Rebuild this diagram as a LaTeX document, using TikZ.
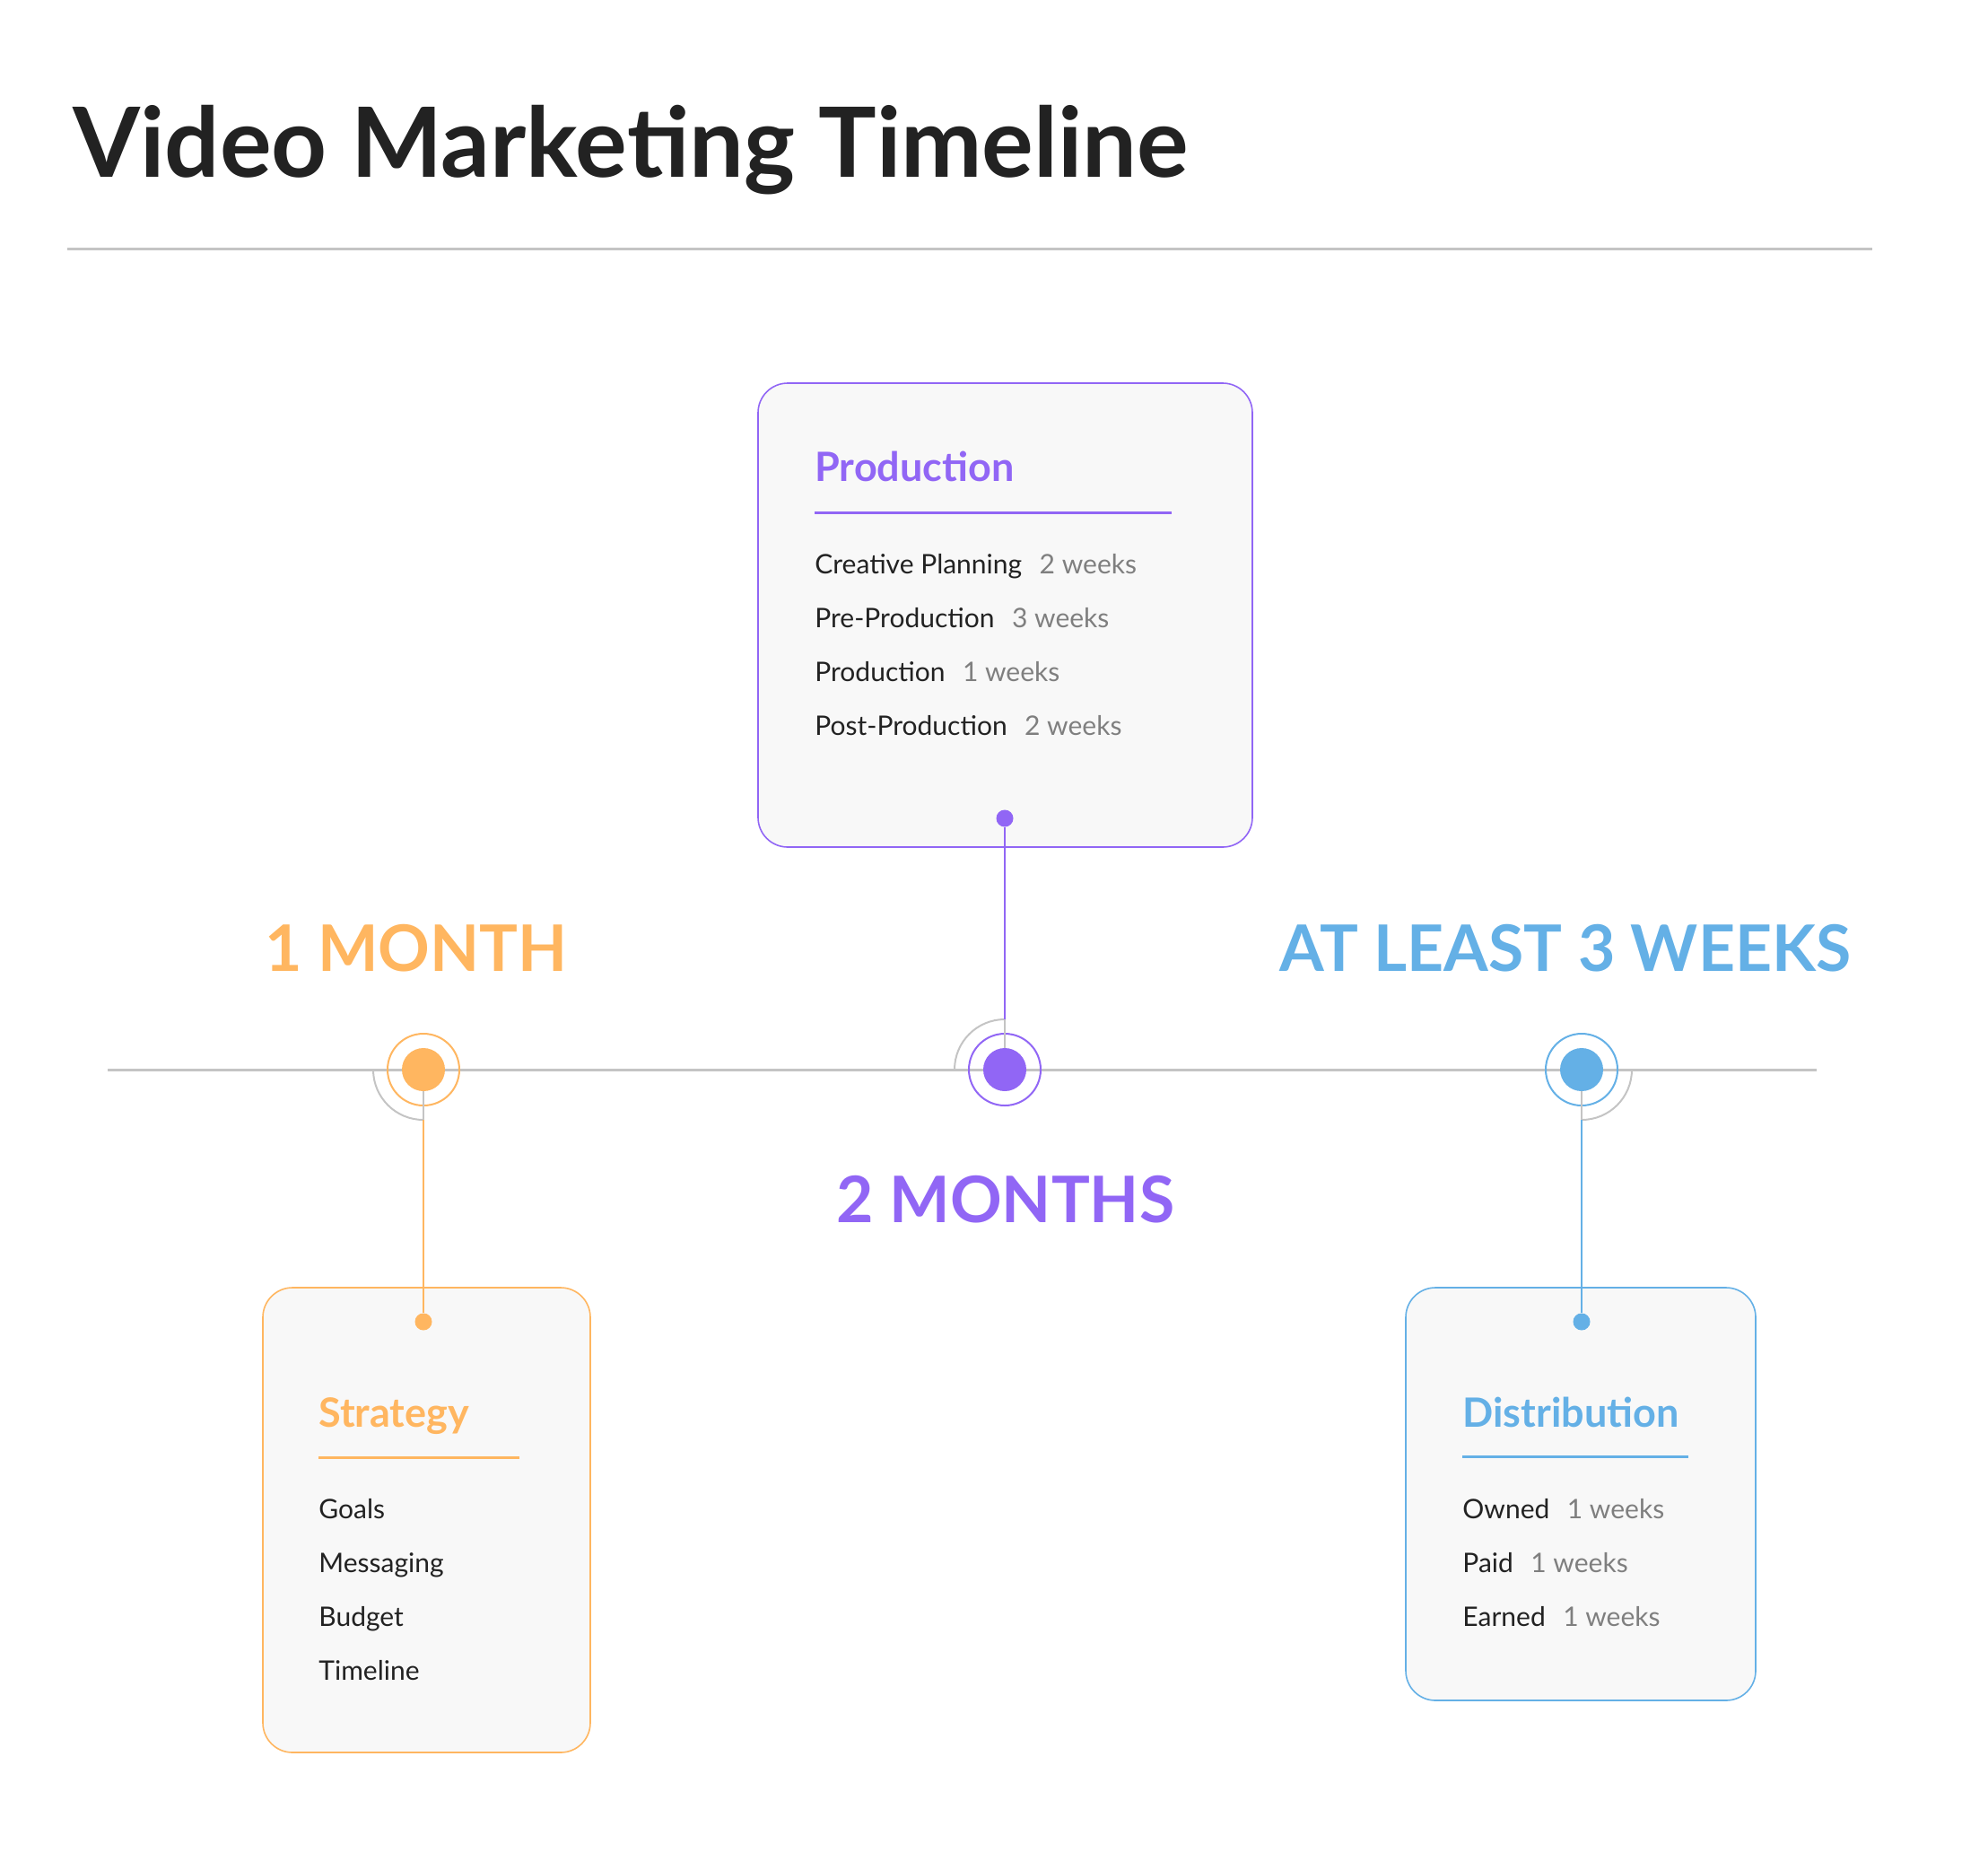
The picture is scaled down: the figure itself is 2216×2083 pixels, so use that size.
\documentclass[tikz,border=0pt]{standalone}
\usepackage{fontspec}
\setmainfont{Lato}
\usepackage{xcolor}
\usepackage{tikz}
\usetikzlibrary{positioning}
\definecolor{ink}{HTML}{222222}
\definecolor{durgray}{HTML}{7F7F7F}
\definecolor{rulegray}{HTML}{C4C4C4}
\definecolor{boxfill}{HTML}{F8F8F8}
\definecolor{orng}{HTML}{FFB660}
\definecolor{purp}{HTML}{9166F5}
\definecolor{blu}{HTML}{64B0E6}
\newcommand{\durtxt}[1]{\hspace{0.65em}\textcolor{durgray}{#1}}
\tikzstyle{ttltext} = [anchor=base west, inner sep=0pt, text=ink, font=\bfseries\fontsize{108}{128}\selectfont]
\tikzstyle{spantext} = [anchor=base, inner sep=0pt, font=\bfseries\fontsize{71.5}{86}\selectfont]
\tikzstyle{headtext} = [anchor=base west, inner sep=0pt, font=\bfseries\fontsize{45}{54}\selectfont]
\tikzstyle{itemtext} = [anchor=base west, inner sep=0pt, text=ink, font=\fontsize{30}{36}\selectfont]
\tikzstyle{card} = [rectangle, draw, line width=1.6pt, fill=boxfill, rounded corners=33pt, inner sep=0pt]
\tikzstyle{hubdot} = [circle, inner sep=0pt, minimum size=48pt]
\tikzstyle{pindot} = [circle, inner sep=0pt, minimum size=19pt]
\tikzstyle{ringline} = [line width=2pt]
\tikzstyle{axisline} = [draw=rulegray, line width=3pt]
\tikzstyle{stemline} = [line width=2pt]
\tikzstyle{arcline} = [draw=rulegray, line width=2pt]

\begin{document}
\begin{tikzpicture}[x=1pt, y=-1pt]
\useasboundingbox (0,0) rectangle (2216,2083);

% title =============================
\node[ttltext] (ttl) at (81,197) {Video Marketing Timeline};
\coordinate (r1) at (75,277);
\coordinate (r2) at (2087,277);
\path[axisline] (r1) -- (r2);

% timeline
\coordinate (t1) at (120,1192);
\coordinate (t2) at (2025,1192);
\path[axisline] (t1) -- (t2);

\node[hubdot, fill=orng] (sm) at (472,1192) {};
\node[hubdot, fill=purp] (pm) at (1120,1192) {};
\node[hubdot, fill=blu] (dm) at (1763,1192) {};
\draw[ringline, orng] (sm.center) circle (40pt);
\draw[ringline, purp] (pm.center) circle (40pt);
\draw[ringline, blu] (dm.center) circle (40pt);

\draw[arcline] ([xshift=-56pt]sm.center) arc[start angle=180, end angle=270, radius=56pt];
\draw[arcline] ([xshift=-56pt]pm.center) arc[start angle=180, end angle=90, radius=56pt];
\draw[arcline] ([xshift=56pt]dm.center) arc[start angle=0, end angle=-90, radius=56pt];

\coordinate (sj) at ([yshift=-56pt]sm.center);
\coordinate (pj) at ([yshift=56pt]pm.center);
\coordinate (dj) at ([yshift=-56pt]dm.center);

% spans
\node[spantext, text=orng] (s1) at (464,1082) {1 MONTH};
\node[spantext, text=purp] (s2) at (1121,1362) {2 MONTHS};
\node[spantext, text=blu] (s3) at (1745,1082) {AT LEAST 3 WEEKS};

% cards =============================
\node[card, draw=purp, minimum width=551pt, minimum height=517pt] (pc) at (1120.5,685.5) {};
\node[card, draw=orng, minimum width=365pt, minimum height=518pt] (sc) at (475.5,1694) {};
\node[card, draw=blu, minimum width=390pt, minimum height=460pt] (dc) at (1762,1665) {};

\node[pindot, fill=purp] (pp) at (1120,912) {};
\node[pindot, fill=orng] (sp) at (472,1473) {};
\node[pindot, fill=blu] (dp) at (1763,1473) {};

% production
\node[headtext, text=purp] (ph) at ([xshift=64pt, yshift=-110pt]pc.north west) {Production};
\draw[purp, line width=3pt] ([yshift=-35pt]ph.base west) -- ++(398pt,0);
\node[itemtext] (p1) at ([yshift=-103pt]ph.base west) {Creative Planning\durtxt{2 weeks}};
\node[itemtext] (p2) at ([yshift=-60pt]p1.base west) {Pre-Production\durtxt{3 weeks}};
\node[itemtext] (p3) at ([yshift=-60pt]p2.base west) {Production\durtxt{1 weeks}};
\node[itemtext] (p4) at ([yshift=-60pt]p3.base west) {Post-Production\durtxt{2 weeks}};

% strategy
\node[headtext, text=orng] (sh) at ([xshift=63pt, yshift=-156pt]sc.north west) {Strategy};
\draw[orng, line width=3pt] ([yshift=-34pt]sh.base west) -- ++(224pt,0);
\node[itemtext] (g1) at ([yshift=-102pt]sh.base west) {Goals};
\node[itemtext] (g2) at ([yshift=-60pt]g1.base west) {Messaging};
\node[itemtext] (g3) at ([yshift=-60pt]g2.base west) {Budget};
\node[itemtext] (g4) at ([yshift=-60pt]g3.base west) {Timeline};

% distribution
\node[headtext, text=blu] (dh) at ([xshift=64pt, yshift=-156pt]dc.north west) {Distribution};
\draw[blu, line width=3pt] ([yshift=-33pt]dh.base west) -- ++(252pt,0);
\node[itemtext] (o1) at ([yshift=-102pt]dh.base west) {Owned\durtxt{1 weeks}};
\node[itemtext] (o2) at ([yshift=-60pt]o1.base west) {Paid\durtxt{1 weeks}};
\node[itemtext] (o3) at ([yshift=-60pt]o2.base west) {Earned\durtxt{1 weeks}};

% edges
\draw[stemline, rulegray] (sm) -- (sj);
\draw[stemline, rulegray] (pm) -- (pj);
\draw[stemline, rulegray] (dm) -- (dj);
\draw[stemline, orng] (sj) -- (sp);
\draw[stemline, purp] (pj) -- (pp);
\draw[stemline, blu] (dj) -- (dp);

\end{tikzpicture}
\end{document}
